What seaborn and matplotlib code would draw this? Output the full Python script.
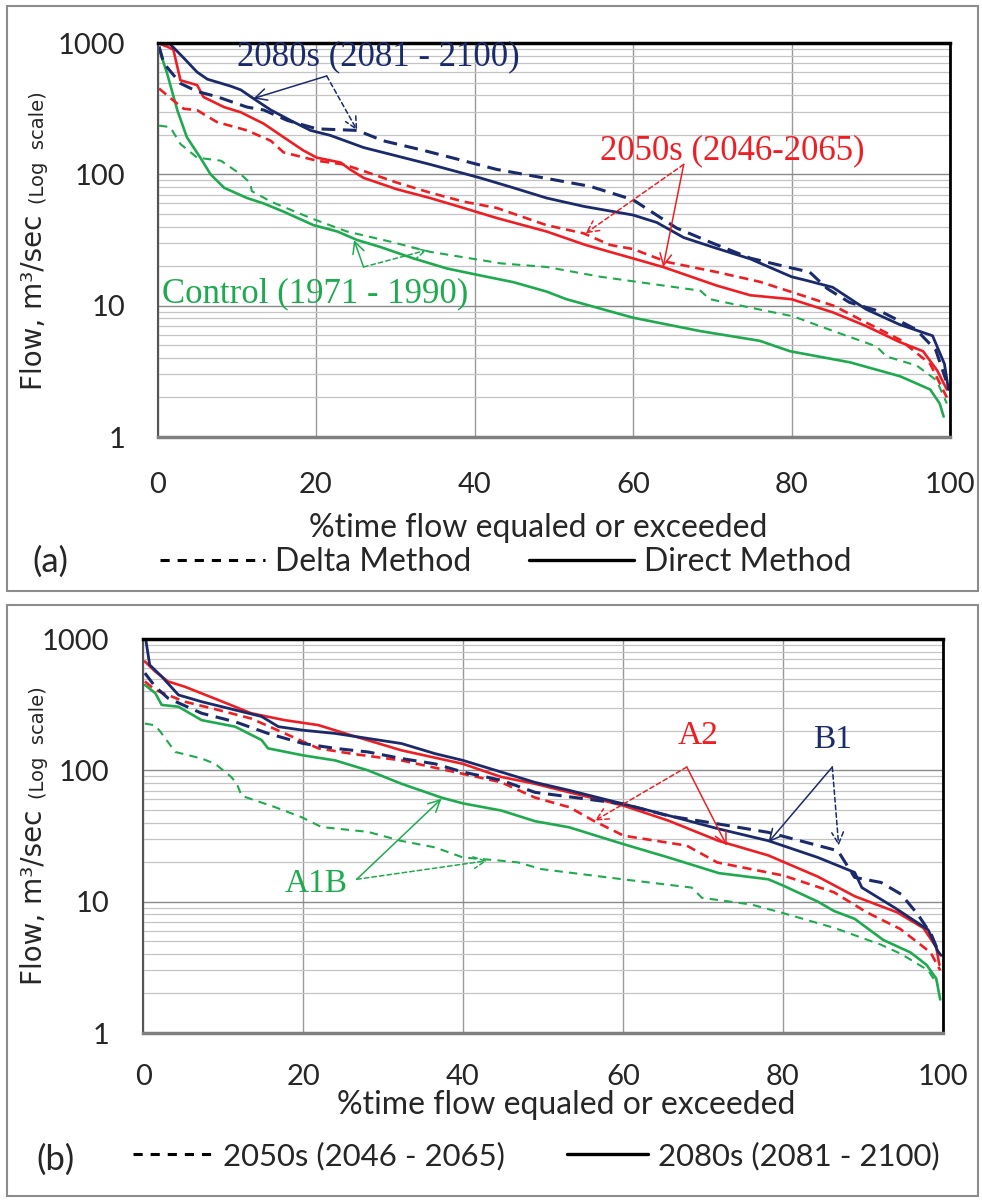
import matplotlib
matplotlib.use("Agg")
import matplotlib.pyplot as plt
import seaborn as sns
from matplotlib.patches import Rectangle
from matplotlib.lines import Line2D
from matplotlib.ticker import LogLocator, MultipleLocator, NullFormatter

# ---------------------------------------------------------------
# data (x = % time exceeded, y = flow m3/s)
# ---------------------------------------------------------------
# panel (a): Direct vs Delta method
a_dir_2080_x = [0.2, 1.6, 3.3, 5, 6.3, 9.2, 10.5, 12.1, 14.3, 16.8, 19.3, 21.8, 26, 30.2, 34.4, 40.7,
                44.9, 49.1, 53.8, 60, 63, 66.4, 70, 74.8, 80, 82, 85.2, 89.4, 93.6, 97.8, 99.3, 99.8]
a_dir_2080_y = [1000, 980, 770, 600, 530, 470, 440, 378, 309, 257, 216, 198, 160, 138, 119, 94,
                79, 66, 57, 49, 43, 33, 28, 22.7, 16.6, 15.5, 13.8, 9.4, 7.2, 5.9, 3.6, 2.3]
a_dlt_2080_x = [0.2, 0.8, 2.9, 5, 7.5, 11.3, 13.4, 16.4, 20.1, 25.2, 28.5, 33.6, 38.6, 42.8, 48.7,
                54.6, 60, 65.5, 70, 74.8, 79, 82.3, 84.5, 87.3, 91.5, 95.7, 98.2, 99.5]
a_dlt_2080_y = [940, 700, 492, 428, 390, 325, 309, 257, 222, 216, 180, 152, 127, 109, 94,
                81, 64, 39, 30, 23, 20, 18, 13.5, 10.6, 8.9, 6.6, 4.6, 2.7]
a_dir_2050_x = [0.2, 1.2, 2, 2.9, 5, 5.8, 8.4, 10.5, 13.4, 15.9, 18.4, 20.1, 23.1, 24.3, 26, 30.2,
                34.4, 38.6, 42.8, 49.1, 54, 60, 63.9, 70.6, 74.8, 80, 85.2, 89.4, 93.6, 96.6, 98.4, 99.6]
a_dir_2050_y = [990, 940, 890, 520, 478, 388, 325, 297, 243, 192, 152, 134, 123, 109, 94, 77,
                66, 55.5, 46.5, 36.7, 29, 22.9, 19.6, 14.2, 12, 11.2, 8.9, 7.0, 5.3, 4.5, 3.2, 2.3]
a_dlt_2050_x = [0.2, 2, 3.3, 5, 7.5, 11.3, 14.3, 15.9, 20.1, 23.5, 26, 30.2, 34.4, 38.6, 42.8, 49.1,
                53.8, 57.1, 60, 64.3, 70.6, 76, 80.2, 85.3, 89.5, 93.7, 97.5, 99.6]
a_dlt_2050_y = [450, 365, 316, 308, 250, 216, 180, 147, 127, 119, 106, 86.5, 72.5, 62, 55.5, 41,
                35.5, 29, 27, 21.5, 18, 15.2, 12.6, 10, 7.4, 5.5, 3.6, 2.0]
a_dir_ctrl_x = [0.2, 1.2, 2.5, 3.7, 5.4, 6.7, 8.4, 11.3, 13.4, 15.9, 19.7, 22.7, 25.2, 28.1, 32.3,
                36.5, 40.7, 44.9, 49.1, 51.6, 60, 68.5, 76, 79.8, 87.4, 93.7, 97.5, 98.7, 99.2]
a_dir_ctrl_y = [900, 590, 308, 192, 134, 100, 79, 66, 60, 52, 41, 36.7, 31.6, 28, 22.9,
                19.2, 17, 15.1, 12.8, 11.2, 8.1, 6.4, 5.4, 4.5, 3.7, 2.9, 2.3, 1.8, 1.43]
a_dlt_ctrl_x = [0.2, 1.6, 2.9, 5, 8, 10.5, 11.7, 11.9, 14.3, 19.3, 23.9, 29.4, 34.4, 40.7, 43.3,
                49.1, 55.9, 68.5, 69.7, 76.9, 80.2, 85.3, 90.7, 92, 95.8, 98.3, 99.6]
a_dlt_ctrl_y = [235, 229, 170, 134, 127, 100, 86, 74.5, 62, 46.5, 36.7, 30.7, 25.7, 22.3, 21,
                19.7, 16.6, 13, 11.2, 9.1, 8.3, 6.4, 4.9, 4.1, 3.5, 2.7, 1.8]

# panel (b): 2050s (dashed) vs 2080s (solid) per scenario
b_2080_b1_x = [0.3, 0.8, 2.3, 4.4, 7.3, 11.5, 14.8, 16.9, 20, 24, 28.1, 32.3, 36.5, 40, 44.8, 49,
               53.3, 60, 65.7, 72, 78.2, 84.4, 89, 89.9, 94, 98.2, 99.4, 99.8]
b_2080_b1_y = [1000, 635, 518, 375, 333, 288, 257, 215, 202, 191, 175, 160, 134, 119, 97, 81,
               70.4, 55.6, 45.3, 35.8, 29.1, 21.7, 16.7, 12.8, 9.0, 6.1, 4.2, 3.9]
b_2050_b1_x = [0.2, 1.5, 3.1, 7.3, 11.5, 15.6, 20, 24, 28.1, 32.3, 36.5, 40, 44.8, 49, 60, 65.7,
               72, 78.2, 86.9, 89, 92.3, 94.8, 96.9, 98.6, 99.6]
b_2050_b1_y = [550, 433, 354, 272, 234, 191, 160, 147, 138, 123, 112, 97, 84, 68, 55.6, 45,
               39, 33.7, 24.4, 15.3, 14, 11.4, 8.0, 5.6, 4.0]
b_2080_a2_x = [0.2, 1.5, 3.1, 5.2, 9.4, 13.5, 17.7, 21.9, 26, 32.3, 40, 44.8, 49, 53.3, 60, 65.7,
               72, 78.2, 84.4, 89, 94.3, 97.6, 99.2, 99.6]
b_2080_a2_y = [675, 565, 475, 433, 343, 272, 241, 221, 185, 142, 112, 89, 79, 68, 54, 41.4,
               29, 22.5, 15.5, 11, 8.3, 6.3, 4.5, 3.3]
b_2050_a2_x = [0.2, 1.5, 5.2, 9.4, 13.5, 17.7, 21.9, 26, 32.3, 40, 44.8, 49, 53.3, 56.3, 60.1, 68,
               71.8, 80.1, 86.4, 90.5, 94.7, 98.5, 99.7]
b_2050_a2_y = [475, 409, 333, 288, 248, 191, 147, 134, 119, 94, 81, 62, 52.4, 41.4, 31.8, 26.7,
               19.9, 15.8, 11.8, 8.3, 6.2, 4.1, 3.0]
b_2080_a1b_x = [0.2, 1.5, 2.3, 4.4, 7.3, 11.5, 14.8, 15.6, 20, 24, 28.1, 32.3, 37.3, 40, 44.8, 49,
                53.3, 60, 65.7, 72, 78.2, 80, 84.4, 86.4, 89, 92.6, 96, 98, 99.2, 99.7]
b_2080_a1b_y = [447, 387, 315, 305, 241, 215, 170, 147, 130, 119, 100, 79, 62, 56, 49.4, 41,
                36.8, 27.5, 21.7, 16.5, 14.8, 13.3, 10, 8.5, 7.4, 5.1, 4.1, 3.3, 2.6, 1.8]
b_2050_a1b_x = [0.2, 1.5, 2.3, 4, 7.3, 9, 11, 11.7, 12.3, 16.5, 19.8, 22.3, 28.1, 32.3, 36.5, 40,
                44.8, 46.9, 49.8, 60, 68.6, 69.9, 76.1, 80, 86.5, 92.3, 94.8, 98.2, 99.4]
b_2050_a1b_y = [227, 220, 191, 138, 123, 112, 89, 79, 64, 52.4, 44, 37, 34, 29, 25.9, 21.7,
                20.5, 19.9, 17.7, 14.8, 12.8, 10.7, 9.5, 8.2, 6.3, 4.7, 4.0, 3.0, 2.3]

NAVY = "#1b2a6b"
RED = "#ee1f24"
GREEN = "#1faa50"

sns.set_theme(style="white")
plt.rcParams["font.family"] = ["Lato", "DejaVu Sans"]
SERIF = ["Liberation Serif", "DejaVu Serif"]

fig = plt.figure(figsize=(9.82, 12), dpi=100)
W, H = 982.0, 1200.0


def add_panel(left, top, right, bottom):
    return fig.add_axes([left / W, 1 - bottom / H, (right - left) / W, (bottom - top) / H])


def curve(ax, x, y, color, dashed, lw):
    if dashed:
        pat = {NAVY: (4.5, 2.5), RED: (3.5, 2.2), GREEN: (4, 3)}[color]
        ls = (0, pat)
    else:
        ls = "-"
    sns.lineplot(x=x, y=y, ax=ax, color=color, lw=lw, linestyle=ls,
                 estimator=None, sort=False, legend=False)


def style_axes(ax, ypad, xpad):
    ax.set_yscale("log")
    ax.set_xlim(0, 100)
    ax.set_ylim(1, 1000)
    ax.set_yticks([1, 10, 100, 1000])
    ax.set_yticklabels(["1", "10", "100", "1000"])
    ax.yaxis.set_minor_locator(LogLocator(base=10, subs=range(2, 10)))
    ax.yaxis.set_minor_formatter(NullFormatter())
    ax.xaxis.set_major_locator(MultipleLocator(20))
    ax.xaxis.set_minor_locator(MultipleLocator(4))
    ax.grid(which="major", axis="y", color="#8a8a8a", lw=1.0)
    ax.grid(which="minor", axis="y", color="#c4c4c4", lw=0.9)
    ax.grid(which="major", axis="x", color="#999999", lw=1.0)
    ax.tick_params(axis="x", which="both", direction="inout", length=12, width=1,
                   color="#808080", labelsize=21, pad=xpad)
    ax.tick_params(axis="y", which="major", direction="inout", length=10, width=1,
                   color="#808080", labelsize=21, pad=ypad)
    ax.tick_params(axis="y", which="minor", length=0)
    ax.spines["top"].set_color("black")
    ax.spines["top"].set_linewidth(2.5)
    ax.spines["right"].set_color("black")
    ax.spines["right"].set_linewidth(2.0)
    ax.spines["left"].set_color("#555555")
    ax.spines["left"].set_linewidth(1.5)
    ax.spines["bottom"].set_color("#808080")
    ax.spines["bottom"].set_linewidth(2.5)
    ax.set_xlabel("")
    ax.set_ylabel("")


def arrow(ax, start, tip, color, dashed):
    ax.annotate("", xy=tip, xytext=start,
                arrowprops=dict(arrowstyle="->,head_length=0.7,head_width=0.35", color=color,
                                lw=1.1, linestyle=(0, (3, 2)) if dashed else "-",
                                shrinkA=0, shrinkB=0))


# ------------------------- panel (a) -------------------------
ax_a = add_panel(157.5, 43, 950, 437)
curve(ax_a, a_dlt_ctrl_x, a_dlt_ctrl_y, GREEN, True, 1.5)
curve(ax_a, a_dir_ctrl_x, a_dir_ctrl_y, GREEN, False, 1.9)
curve(ax_a, a_dlt_2050_x, a_dlt_2050_y, RED, True, 1.9)
curve(ax_a, a_dir_2050_x, a_dir_2050_y, RED, False, 1.9)
curve(ax_a, a_dlt_2080_x, a_dlt_2080_y, NAVY, True, 2.2)
curve(ax_a, a_dir_2080_x, a_dir_2080_y, NAVY, False, 2.0)
style_axes(ax_a, ypad=18, xpad=19)

ax_a.text(27.8, 790, "2080s (2081 - 2100)", color=NAVY, fontsize=25, family=SERIF,
          ha="center", va="center")
arrow(ax_a, (21.35, 561), (12.1, 378), NAVY, False)
arrow(ax_a, (21.35, 561), (25.2, 216), NAVY, True)
ax_a.text(72.5, 152, "2050s (2046-2065)", color=RED, fontsize=25, family=SERIF,
          ha="center", va="center")
arrow(ax_a, (66.4, 119), (54.0, 35.5), RED, True)
arrow(ax_a, (66.4, 119), (63.8, 19.7), RED, False)
ax_a.text(19.9, 12.3, "Control (1971 - 1990)", color=GREEN, fontsize=25, family=SERIF,
          ha="center", va="center")
arrow(ax_a, (26.0, 19.7), (24.8, 31.6), GREEN, False)
arrow(ax_a, (26.0, 19.7), (34.0, 26.5), GREEN, True)

ax_a.set_xlabel("%time flow equaled or exceeded", fontsize=23)
ax_a.xaxis.set_label_coords(0.48, -0.23)
ax_a.xaxis.label.set_va("center")

# ------------------------- panel (b) -------------------------
ax_b = add_panel(143.3, 639, 942.6, 1033)
curve(ax_b, b_2050_a1b_x, b_2050_a1b_y, GREEN, True, 1.5)
curve(ax_b, b_2080_a1b_x, b_2080_a1b_y, GREEN, False, 1.9)
curve(ax_b, b_2050_a2_x, b_2050_a2_y, RED, True, 1.9)
curve(ax_b, b_2080_a2_x, b_2080_a2_y, RED, False, 1.9)
curve(ax_b, b_2050_b1_x, b_2050_b1_y, NAVY, True, 2.2)
curve(ax_b, b_2080_b1_x, b_2080_b1_y, NAVY, False, 2.0)
style_axes(ax_b, ypad=19.5, xpad=16)

ax_b.text(69.4, 184, "A2", color=RED, fontsize=24, family=SERIF, ha="center", va="center")
arrow(ax_b, (68.0, 106), (56.5, 41.4), RED, True)
arrow(ax_b, (68.0, 106), (73.0, 26.7), RED, False)
ax_b.text(86.2, 170, "B1", color=NAVY, fontsize=24, family=SERIF, ha="center", va="center")
arrow(ax_b, (86.2, 106), (78.2, 28.3), NAVY, False)
arrow(ax_b, (86.2, 106), (87.0, 26.7), NAVY, True)
ax_b.text(21.6, 13.6, "A1B", color=GREEN, fontsize=24, family=SERIF, ha="center", va="center")
arrow(ax_b, (26.7, 14.8), (37.3, 60.7), GREEN, False)
arrow(ax_b, (26.7, 14.8), (43.0, 20.5), GREEN, True)

ax_b.set_xlabel("%time flow equaled or exceeded", fontsize=23)
ax_b.xaxis.set_label_coords(0.529, -0.182)
ax_b.xaxis.label.set_va("center")

# ------------------------- y labels -------------------------
for main_c, small_c in [(302, 148), (897, 743)]:
    fig.text(34 / W, 1 - main_c / H, "Flow, m³/sec", rotation=90, fontsize=20,
             family="DejaVu Sans", ha="center", va="center")
    fig.text(38 / W, 1 - small_c / H, "(Log  scale)", rotation=90, fontsize=14,
             family="DejaVu Sans", ha="center", va="center")

# ------------------------- legends -------------------------
dash_h = Line2D([], [], color="black", lw=2.2, linestyle=(0, (3, 2.6)))
solid_h = Line2D([], [], color="black", lw=2.4)

leg_a = fig.legend([dash_h, solid_h], ["Delta Method", "Direct Method"], ncol=2,
                   loc="center left", bbox_to_anchor=(160 / W, 1 - 562 / H), frameon=False,
                   fontsize=23, handlelength=3.3, handletextpad=0.3, columnspacing=1.8,
                   borderpad=0, borderaxespad=0)
leg_b = fig.legend([dash_h, solid_h], ["2050s (2046 - 2065)", "2080s (2081 - 2100)"], ncol=2,
                   loc="center left", bbox_to_anchor=(133 / W, 1 - 1156 / H), frameon=False,
                   fontsize=22.4, handlelength=2.6, handletextpad=0.3, columnspacing=2.0,
                   borderpad=0, borderaxespad=0)

fig.text(50 / W, 1 - 562 / H, "(a)", fontsize=25, ha="center", va="center")
fig.text(55 / W, 1 - 1160 / H, "(b)", fontsize=25, ha="center", va="center")

# panel frames
for y0, y1 in [(6, 591), (605, 1196)]:
    fig.add_artist(Rectangle((7 / W, 1 - y1 / H), 971 / W, (y1 - y0) / H,
                             transform=fig.transFigure, fill=False, ec="#8c8c8c", lw=1.5))

fig.savefig("out.png", dpi=100, facecolor="white")
